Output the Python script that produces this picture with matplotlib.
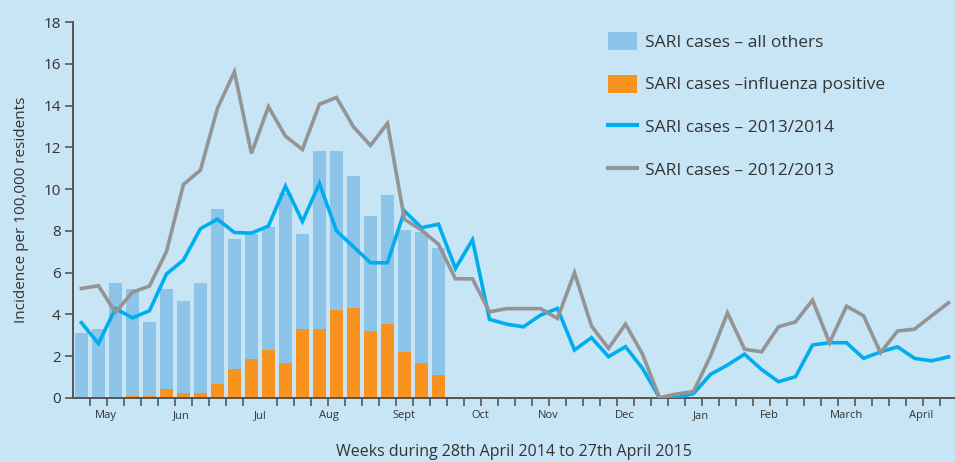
import numpy as np
import matplotlib
matplotlib.use("Agg")
import matplotlib.pyplot as plt
from matplotlib.patches import Patch
from matplotlib.lines import Line2D

plt.rcParams['font.family'] = ['Open Sans', 'DejaVu Sans']

# weekly SARI data, 28 Apr 2014 - 27 Apr 2015 (52 weeks)
others = [3.1, 3.3, 5.5, 5.1, 3.55, 4.8, 4.4, 5.25, 8.4, 6.25, 6.0, 5.9,
          8.15, 4.55, 8.5, 7.6, 6.3, 5.5, 6.15, 5.85, 6.25, 6.1]
flu_pos = [0, 0, 0, 0.1, 0.1, 0.43, 0.24, 0.24, 0.67, 1.36, 1.87, 2.3,
           1.68, 3.31, 3.31, 4.22, 4.31, 3.21, 3.55, 2.2, 1.68, 1.1]
season_1314 = [3.6, 2.6, 4.28, 3.83, 4.17, 5.93, 6.6, 8.1, 8.56, 7.92,
               7.89, 8.23, 10.14, 8.45, 10.27, 8.0, 7.24, 6.47, 6.47, 8.95,
               8.15, 8.32, 6.2, 7.57, 3.76, 3.53, 3.4, 3.96, 4.28, 2.29,
               2.88, 1.97, 2.45, 1.41, 0.0, 0.02, 0.2, 1.12, 1.57, 2.09,
               1.36, 0.77, 1.01, 2.53, 2.64, 2.64, 1.89, 2.2, 2.44, 1.89,
               1.77, 1.96]
season_1213 = [5.24, 5.37, 4.09, 5.06, 5.35, 7.0, 10.22, 10.91, 13.87, 15.62,
               11.71, 13.95, 12.54, 11.9, 14.07, 14.39, 12.99, 12.09, 13.15, 8.55,
               8.04, 7.35, 5.7, 5.7, 4.12, 4.27, 4.27, 4.27, 3.8, 5.99,
               3.44, 2.37, 3.53, 2.09, 0.0, 0.18, 0.3, 2.0, 4.07, 2.33,
               2.2, 3.4, 3.64, 4.68, 2.64, 4.39, 3.93, 2.16, 3.2, 3.29,
               3.93, 4.55]
months = ['May', 'Jun', 'Jul', 'Aug', 'Sept', 'Oct', 'Nov', 'Dec',
          'Jan', 'Feb', 'March', 'April']
month_pos = [1.45, 5.9, 10.5, 14.55, 18.95, 23.45, 27.45, 31.95,
             36.45, 40.45, 45.0, 49.4]

bg = '#c8e5f6'
c_others = '#8cc4ea'
c_flu = '#f7931e'
c_1314 = '#00aeef'
c_1213 = '#949494'
c_axis = '#555555'
c_text = '#333333'

fig = plt.figure(figsize=(9.55, 4.62), dpi=100, facecolor=bg)
ax = fig.add_axes([0.0767, 0.139, 1 - 0.0767, 0.952 - 0.139])
ax.set_facecolor(bg)

wk_bars = np.arange(len(others))
wk = np.arange(len(season_1314))

ax.bar(wk_bars, flu_pos, width=0.77, color=c_flu, zorder=2)
ax.bar(wk_bars, others, width=0.77, bottom=flu_pos, color=c_others, zorder=2)
ax.plot(wk, season_1314, color=c_1314, lw=2.6, zorder=3, solid_joinstyle='miter')
ax.plot(wk, season_1213, color=c_1213, lw=2.6, zorder=4, solid_joinstyle='miter')

ax.set_xlim(-0.48, 51.38)
ax.set_ylim(0, 18)
ax.set_yticks(range(0, 19, 2))

# week boundary tick marks, month names between them
ax.set_xticks(np.arange(0.5, 51, 1), minor=True)
ax.set_xticks(month_pos)
ax.set_xticklabels(months)
ax.tick_params(axis='x', which='major', length=0, pad=9, labelsize=8, labelcolor=c_text)
ax.tick_params(axis='x', which='minor', length=6, width=1.2, color=c_axis, direction='out')
ax.tick_params(axis='y', length=6, width=1.2, color=c_axis, labelsize=11, labelcolor=c_text, pad=3)

for s in ['top', 'right']:
    ax.spines[s].set_visible(False)
for s in ['left', 'bottom']:
    ax.spines[s].set_color(c_axis)
    ax.spines[s].set_linewidth(1.4)

ax.set_ylabel('Incidence per 100,000 residents', fontsize=11, color=c_text, labelpad=10)
ax.set_xlabel('Weeks during 28th April 2014 to 27th April 2015', fontsize=11.5,
              color=c_text, labelpad=16)

handles = [Patch(facecolor=c_others, edgecolor='none'),
           Patch(facecolor=c_flu, edgecolor='none'),
           Line2D([], [], color=c_1314, lw=3),
           Line2D([], [], color=c_1213, lw=3)]
labels = ['SARI cases \u2013 all others', 'SARI cases \u2013influenza positive',
          'SARI cases \u2013 2013/2014', 'SARI cases \u2013 2012/2013']
fig.legend(handles, labels, loc='upper left', bbox_to_anchor=(608 / 955, 1 - 32 / 462),
           frameon=False, fontsize=12.5, labelcolor=c_text, borderpad=0, borderaxespad=0,
           handlelength=1.67, handleheight=1.2, handletextpad=0.45, labelspacing=1.38)

fig.savefig('out.png', dpi=100, facecolor=bg)
